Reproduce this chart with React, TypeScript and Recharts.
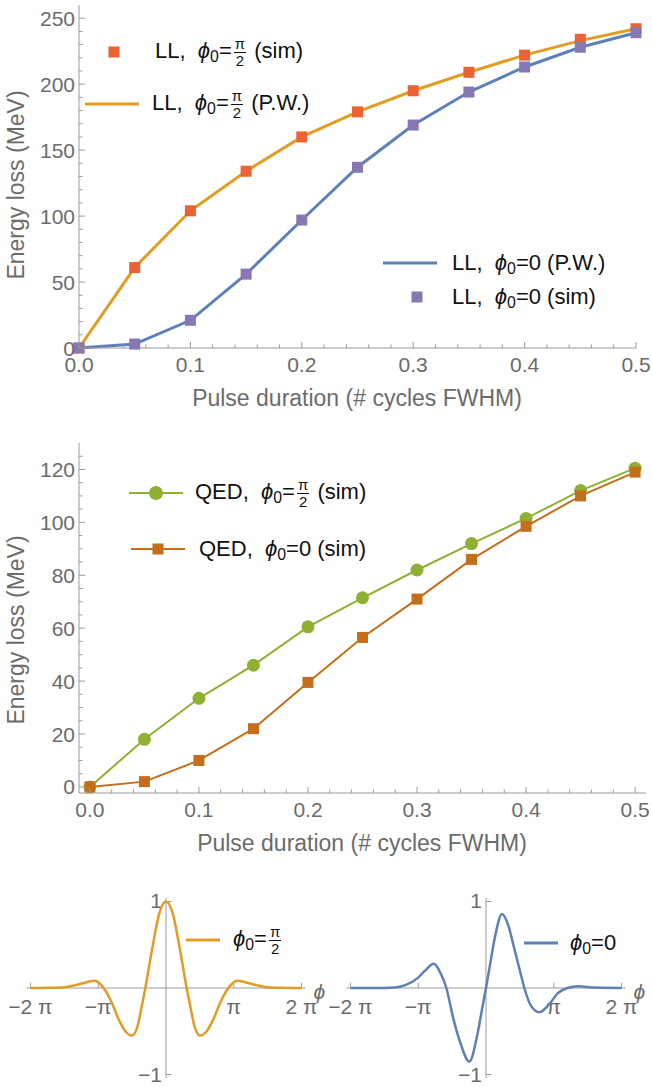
import React from "react";
import { LineChart, Line, XAxis, YAxis, ReferenceLine } from "recharts";

const AXIS = "#9a9a9a";
const TICK_TEXT = "#6b6b6b";
const FONT = "'Liberation Sans', Arial, Helvetica, sans-serif";

const ORANGE = "#E19C24";
const BLUE = "#5E81B5";
const RED = "#EB6235";
const PURPLE = "#8778B3";
const GREEN = "#8FB032";
const BROWN = "#C56E1A";

// pulse duration (# cycles FWHM)
const durations = [0, 0.05, 0.1, 0.15, 0.2, 0.25, 0.3, 0.35, 0.4, 0.45, 0.5];
// energy loss (MeV), LL
const llHalfPiSim = [0, 61, 104, 134, 160, 179, 195, 209, 222, 234, 242];
const llHalfPiPW = [0, 61, 104, 134, 160, 179, 195, 209, 222, 233, 242];
const llZeroPW = [0, 3, 21, 56, 97, 137, 169, 194, 213, 228, 239];
const llZeroSim = [0, 3, 21, 56, 97, 137, 169, 194, 213, 228, 239];
// energy loss (MeV), QED
const qedHalfPiSim = [0, 18, 33.5, 46, 60.5, 71.5, 82, 92, 101.5, 112, 120.5];
const qedZeroSim = [0, 2, 10, 22, 39.5, 56.5, 71, 86, 98.5, 110, 119];

const durationTicks = [0, 0.1, 0.2, 0.3, 0.4, 0.5];
const llEnergyTicks = [0, 50, 100, 150, 200, 250];
const qedEnergyTicks = [0, 20, 40, 60, 80, 100, 120];

// pulse shapes, phase in units of pi
const phaseHalfPi = [
	-2, -1.7, -1.5, -1.35, -1.2, -1.05, -0.92, -0.8, -0.7, -0.6, -0.5, -0.42,
	-0.36, -0.305, -0.2, -0.1, 0, 0.1, 0.2, 0.305, 0.36, 0.42, 0.5, 0.6, 0.7, 0.8,
	0.92, 1.05, 1.2, 1.35, 1.5, 1.7, 2,
];
const fieldHalfPi = [
	0, 0.002, 0.008, 0.03, 0.06, 0.085, 0, -0.17, -0.36, -0.5, -0.55, -0.44,
	-0.22, 0, 0.47, 0.86, 1, 0.86, 0.47, 0, -0.22, -0.44, -0.55, -0.5, -0.36,
	-0.17, 0, 0.085, 0.06, 0.03, 0.008, 0.002, 0,
];
const phaseZero = [
	-2, -1.5, -1.35, -1.2, -1.0, -0.9, -0.77, -0.67, -0.585, -0.48, -0.38, -0.246,
	-0.13, -0.06, 0, 0.06, 0.13, 0.236, 0.33, 0.41, 0.51, 0.566, 0.66, 0.79, 0.95,
	1.06, 1.2, 1.36, 1.6, 2,
];
const fieldZero = [
	0, 0, 0.005, 0.03, 0.12, 0.2, 0.28, 0.17, 0, -0.36, -0.63, -0.85, -0.55,
	-0.25, 0, 0.27, 0.58, 0.855, 0.72, 0.48, 0.17, 0, -0.2, -0.28, -0.17, -0.06,
	0, 0.02, 0.005, 0,
];
const phaseTicks = [-2, -1, 1, 2];
const phaseTickLabels = ["−2 π", "−π", "π", "2 π"];

const llData = durations.map((d, i) => ({
	d,
	halfSim: llHalfPiSim[i],
	halfPW: llHalfPiPW[i],
	zeroPW: llZeroPW[i],
	zeroSim: llZeroSim[i],
}));
const qedData = durations.map((d, i) => ({
	d,
	half: qedHalfPiSim[i],
	zero: qedZeroSim[i],
}));
const pulseHalfPi = phaseHalfPi.map((p, i) => ({ p, f: fieldHalfPi[i] }));
const pulseZero = phaseZero.map((p, i) => ({ p, f: fieldZero[i] }));

// majors plus minor ticks in between
const allTicks = (step: number, from: number, to: number) =>
	Array.from(
		{ length: Math.round((to - from) / step) + 1 },
		(_, i) => +(from + i * step).toFixed(4),
	);
const isMajor = (majors: number[], v: number) =>
	majors.some((m) => Math.abs(m - v) < 1e-6);

function XTick(props: any) {
	const { x, y, payload, majors, digits } = props;
	const major = isMajor(majors, payload.value);
	return (
		<g>
			<line
				x1={x}
				x2={x}
				y1={y}
				y2={y - (major ? 6 : 3.5)}
				stroke={AXIS}
			/>
			{major && (
				<text
					x={x}
					y={y + 24}
					textAnchor="middle"
					fill={TICK_TEXT}
					fontSize={21}
					fontFamily={FONT}
				>
					{payload.value.toFixed(digits)}
				</text>
			)}
		</g>
	);
}

function YTick(props: any) {
	const { x, y, payload, majors } = props;
	const major = isMajor(majors, payload.value);
	return (
		<g>
			<line
				x1={x}
				x2={x + (major ? 6 : 3.5)}
				y1={y}
				y2={y}
				stroke={AXIS}
			/>
			{major && (
				<text
					x={x - 4}
					y={y + 7.5}
					textAnchor="end"
					fill={TICK_TEXT}
					fontSize={21}
					fontFamily={FONT}
				>
					{payload.value}
				</text>
			)}
		</g>
	);
}

function AxisTitle({ px, py, rot = 0, text }: any) {
	return (
		<text
			x={px}
			y={py}
			transform={rot ? `rotate(${rot} ${px} ${py})` : undefined}
			textAnchor="middle"
			dominantBaseline="central"
			fill={TICK_TEXT}
			fontSize={23}
			fontFamily={FONT}
		>
			{text}
		</text>
	);
}

function Square(props: any) {
	const { cx, cy, fill, size } = props;
	if (cx == null || cy == null) return null;
	return (
		<rect
			x={cx - size / 2}
			y={cy - size / 2}
			width={size}
			height={size}
			fill={fill}
		/>
	);
}

// text placed relative to a reference line's box
function RefText(props: any) {
	const { viewBox, text, dx = 0, dy = 0, anchor = "middle", italic } = props;
	if (!viewBox) return null;
	const bx = viewBox.x + (anchor === "start" ? viewBox.width : 0);
	const by = viewBox.y + viewBox.height;
	return (
		<text
			x={bx + dx}
			y={by + dy}
			textAnchor={anchor}
			fill={TICK_TEXT}
			fontSize={21}
			fontStyle={italic ? "italic" : "normal"}
			fontFamily={FONT}
		>
			{text}
		</text>
	);
}

const Phi0 = () => (
	<>
		<span style={{ fontStyle: "italic" }}>ϕ</span>
		<span style={{ fontSize: "0.72em", position: "relative", top: "0.25em" }}>
			0
		</span>
	</>
);

const HalfPi = () => (
	<span
		style={{
			display: "inline-flex",
			flexDirection: "column",
			alignItems: "center",
			fontSize: "0.68em",
			lineHeight: 1.05,
			verticalAlign: "middle",
			margin: "0 2px",
		}}
	>
		<span style={{ borderBottom: "1px solid currentColor", padding: "0 1px" }}>
			π
		</span>
		<span>2</span>
	</span>
);

function LegendItem({
	cy,
	mx,
	tx,
	marker,
	children,
}: {
	cy: number;
	mx: number;
	tx: number;
	marker: React.ReactNode;
	children: React.ReactNode;
}) {
	return (
		<>
			<svg
				width={60}
				height={20}
				style={{ position: "absolute", left: mx - 30, top: cy - 10 }}
			>
				<g transform="translate(30 10)">{marker}</g>
			</svg>
			<div
				style={{
					position: "absolute",
					left: tx,
					top: cy - 18,
					height: 36,
					display: "flex",
					alignItems: "center",
					whiteSpace: "nowrap",
					fontSize: 22,
					color: "#111",
				}}
			>
				<span>{children}</span>
			</div>
		</>
	);
}

const lineMark = (color: string, w: number, half: number) => (
	<line x1={-half} x2={half} y1={0} y2={0} stroke={color} strokeWidth={w} />
);

function PulsePlot({
	data,
	color,
	left,
	width,
}: {
	data: { p: number; f: number }[];
	color: string;
	left: number;
	width: number;
}) {
	return (
		<div style={{ position: "absolute", left, top: 880 }}>
			<LineChart
				width={width}
				height={208}
				data={data}
				margin={{ top: 18, right: width - 305.6, left: 26.4, bottom: 10 }}
			>
				<XAxis type="number" dataKey="p" domain={[-2.06, 2.06]} hide />
				<YAxis type="number" domain={[-1.04, 1.04]} hide />
				<ReferenceLine
					y={0}
					stroke={AXIS}
					label={<RefText text="ϕ" anchor="start" dx={8} dy={11} italic />}
				/>
				<ReferenceLine
					segment={[
						{ x: 0, y: -1.04 },
						{ x: 0, y: 1.04 },
					]}
					stroke={AXIS}
				/>
				{phaseTicks.map((t, i) => (
					<ReferenceLine
						key={t}
						segment={[
							{ x: t, y: 0 },
							{ x: t, y: 0.06 },
						]}
						stroke={AXIS}
						label={<RefText text={phaseTickLabels[i]} dy={26} />}
					/>
				))}
				{[1, -1].map((t) => (
					<ReferenceLine
						key={t}
						segment={[
							{ x: 0, y: t },
							{ x: 0.08, y: t },
						]}
						stroke={AXIS}
						label={
							<RefText
								text={t > 0 ? "1" : "−1"}
								anchor="end"
								dx={-4}
								dy={7}
							/>
						}
					/>
				))}
				<Line
					dataKey="f"
					type="monotone"
					stroke={color}
					strokeWidth={2.5}
					dot={false}
					activeDot={false}
					isAnimationActive={false}
				/>
			</LineChart>
		</div>
	);
}

export default function App() {
	const durationMinor = allTicks(0.02, 0, 0.5);
	return (
		<div
			style={{
				position: "absolute",
				left: 0,
				top: 0,
				width: 652,
				height: 1088,
				background: "#fff",
				fontFamily: FONT,
			}}
		>
			{/* LL energy loss */}
			<div style={{ position: "absolute", left: 0, top: 0 }}>
				<LineChart
					width={652}
					height={415}
					data={llData}
					margin={{ top: 5, right: 16, left: 0, bottom: 0 }}
				>
					<XAxis
						type="number"
						dataKey="d"
						domain={[0, 0.5]}
						ticks={durationMinor}
						interval={0}
						tickSize={0}
						tickMargin={0}
						tickLine={false}
						axisLine={{ stroke: AXIS }}
						tick={<XTick majors={durationTicks} digits={1} />}
						height={67}
						label={
							<AxisTitle px={357} py={398} text="Pulse duration (# cycles FWHM)" />
						}
					/>
					<YAxis
						type="number"
						domain={[0, 260]}
						ticks={allTicks(10, 0, 250)}
						interval={0}
						tickSize={0}
						tickMargin={0}
						tickLine={false}
						axisLine={{ stroke: AXIS }}
						tick={<YTick majors={llEnergyTicks} />}
						width={79}
						label={
							<AxisTitle px={16} py={185} rot={-90} text="Energy loss (MeV)" />
						}
					/>
					<Line
						dataKey="halfPW"
						type="linear"
						stroke={ORANGE}
						strokeWidth={3}
						dot={false}
						activeDot={false}
						isAnimationActive={false}
					/>
					<Line
						dataKey="zeroPW"
						type="linear"
						stroke={BLUE}
						strokeWidth={3}
						dot={false}
						activeDot={false}
						isAnimationActive={false}
					/>
					<Line
						dataKey="halfSim"
						stroke="none"
						dot={<Square fill={RED} size={11} />}
						activeDot={false}
						isAnimationActive={false}
					/>
					<Line
						dataKey="zeroSim"
						stroke="none"
						dot={<Square fill={PURPLE} size={11} />}
						activeDot={false}
						isAnimationActive={false}
					/>
				</LineChart>
			</div>

			<LegendItem
				cy={52}
				mx={114}
				tx={155}
				marker={<rect x={-5.5} y={-5.5} width={11} height={11} fill={RED} />}
			>
				LL,&nbsp;&nbsp;<Phi0 />=<HalfPi /> (sim)
			</LegendItem>
			<LegendItem cy={104} mx={112} tx={152} marker={lineMark(ORANGE, 3, 27)}>
				LL,&nbsp;&nbsp;<Phi0 />=<HalfPi /> (P.W.)
			</LegendItem>
			<LegendItem cy={263} mx={410} tx={452} marker={lineMark(BLUE, 3, 27)}>
				LL,&nbsp;&nbsp;<Phi0 />=0 (P.W.)
			</LegendItem>
			<LegendItem
				cy={297}
				mx={417}
				tx={452}
				marker={
					<rect x={-5.5} y={-5.5} width={11} height={11} fill={PURPLE} />
				}
			>
				LL,&nbsp;&nbsp;<Phi0 />=0 (sim)
			</LegendItem>

			{/* QED energy loss */}
			<div style={{ position: "absolute", left: 0, top: 420 }}>
				<LineChart
					width={652}
					height={450}
					data={qedData}
					margin={{ top: 23, right: 6, left: 0, bottom: 0 }}
				>
					<XAxis
						type="number"
						dataKey="d"
						domain={[-0.01, 0.51]}
						ticks={durationMinor}
						interval={0}
						tickSize={0}
						tickMargin={0}
						tickLine={false}
						axisLine={{ stroke: AXIS }}
						tick={<XTick majors={durationTicks} digits={1} />}
						height={77}
						label={
							<AxisTitle px={362} py={423} text="Pulse duration (# cycles FWHM)" />
						}
					/>
					<YAxis
						type="number"
						domain={[-2.3, 130]}
						ticks={allTicks(5, 0, 125)}
						interval={0}
						tickSize={0}
						tickMargin={0}
						tickLine={false}
						axisLine={{ stroke: AXIS }}
						tick={<YTick majors={qedEnergyTicks} />}
						width={79}
						label={
							<AxisTitle px={16} py={210} rot={-90} text="Energy loss (MeV)" />
						}
					/>
					<Line
						dataKey="half"
						stroke={GREEN}
						strokeWidth={2}
						dot={{ r: 6.5, fill: GREEN, stroke: "none" }}
						activeDot={false}
						isAnimationActive={false}
					/>
					<Line
						dataKey="zero"
						stroke={BROWN}
						strokeWidth={2}
						dot={<Square fill={BROWN} size={11} />}
						activeDot={false}
						isAnimationActive={false}
					/>
				</LineChart>
			</div>

			<LegendItem
				cy={493}
				mx={156}
				tx={195}
				marker={
					<>
						{lineMark(GREEN, 2, 27)}
						<circle r={7} fill={GREEN} />
					</>
				}
			>
				QED,&nbsp;&nbsp;<Phi0 />=<HalfPi /> (sim)
			</LegendItem>
			<LegendItem
				cy={549}
				mx={158}
				tx={199}
				marker={
					<>
						{lineMark(BROWN, 2, 27)}
						<rect x={-5.5} y={-5.5} width={11} height={11} fill={BROWN} />
					</>
				}
			>
				QED,&nbsp;&nbsp;<Phi0 />=0 (sim)
			</LegendItem>

			{/* pulse shapes */}
			<PulsePlot data={pulseHalfPi} color={ORANGE} left={0} width={330} />
			<PulsePlot data={pulseZero} color={BLUE} left={320} width={332} />

			<LegendItem cy={940} mx={203} tx={233} marker={lineMark(ORANGE, 3, 17)}>
				<Phi0 />=<HalfPi />
			</LegendItem>
			<LegendItem cy={943} mx={541} tx={570} marker={lineMark(BLUE, 3, 17)}>
				<Phi0 />=0
			</LegendItem>
		</div>
	);
}
